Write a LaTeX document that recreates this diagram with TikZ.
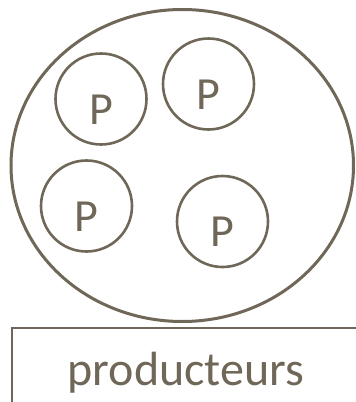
\documentclass[tikz,border=0pt]{standalone}
\usepackage{fontspec}
\setmainfont{Carlito}
\usetikzlibrary{shapes.geometric}
\definecolor{prodgray}{RGB}{111,103,87}
\newcommand{\lowP}{\raisebox{-10.5pt}[\height][\depth]{P}}

\begin{document}
\begin{tikzpicture}[x=1pt,y=-1pt]
      \tikzstyle{every node}=[text=prodgray,inner sep=0pt,
			      font=\fontsize{46}{50}\selectfont]
      \tikzstyle{prod}=[draw=prodgray,circle,line width=2.6pt,minimum size=91pt]
      \useasboundingbox (0,0) rectangle (356,402);
      \clip (0,0) rectangle (356,402);
      \node (market) [draw=prodgray,ellipse,line width=3pt,
		      minimum width=342.5pt,minimum height=312pt] at (182.25,165.5) {};
      \node (p1) [prod] at (101,99) {\lowP};
      \node (p2) [prod] at (208.5,84) {\lowP};
      \node (p3) [prod] at (86.5,206) {\lowP};
      \node (p4) [prod] at (222.5,221.5) {\lowP};
      \node (producers) [draw=prodgray,line width=2pt,anchor=north west,
			 font=\fontsize{48}{52}\selectfont,
			 minimum width=348pt,minimum height=90pt] at (11,326.7) {producteurs};
  \end{tikzpicture}
\end{document}
